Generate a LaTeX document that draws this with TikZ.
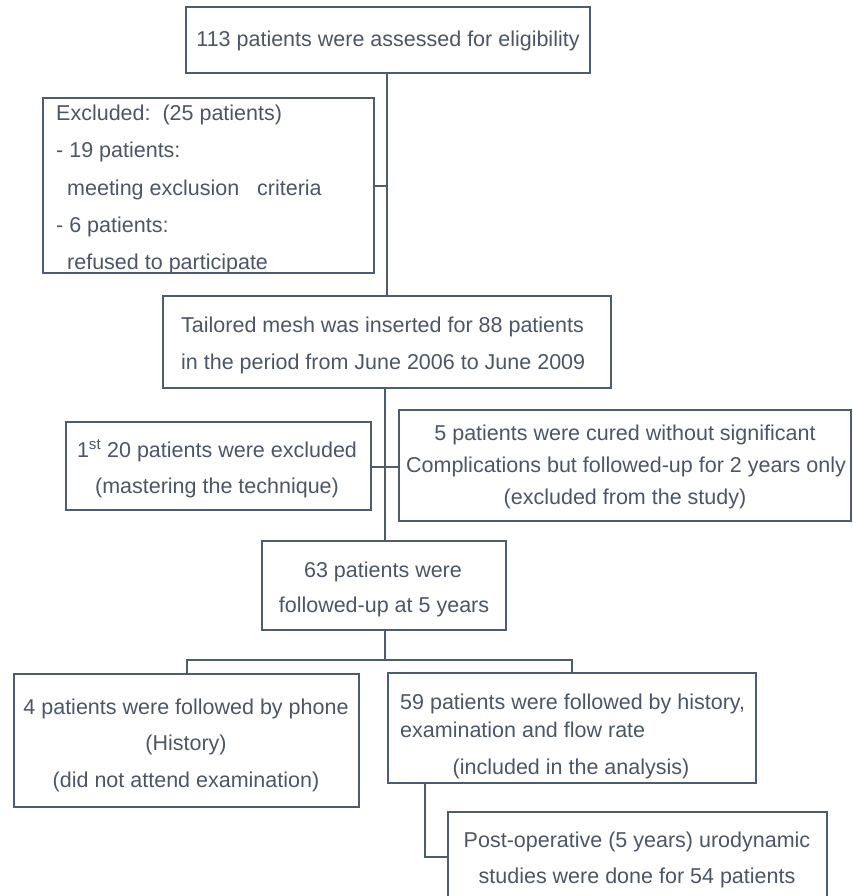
\documentclass[tikz,border=0pt]{standalone}
\usepackage{fontspec}
\setmainfont{Liberation Sans}
\usetikzlibrary{fit}
\definecolor{boxline}{RGB}{78,92,114}
\definecolor{txtcol}{RGB}{76,86,102}
\newcommand\mkbox[5]{\path (#2,#3) coordinate (#1nw) (#4,#5) coordinate (#1se);
  \node[boxstyle, fit=(#1nw)(#1se)] (#1) {};}
\begin{document}
\begin{tikzpicture}[x=1pt,y=-1pt,
  boxstyle/.style={draw=boxline, line width=1.4pt, inner sep=0pt, outer sep=0pt, rectangle},
  txt/.style={text=txtcol, inner sep=0pt, font=\fontsize{21.5}{25}\selectfont},
  conn/.style={draw=boxline, line width=1.4pt}]
\useasboundingbox (0,0) rectangle (853,896);
\clip (0,0) rectangle (853,896);
\fill[white] (0,0) rectangle (853,896);

% boxes
\mkbox{b1}{186}{7}{590}{73}
\mkbox{b2}{43}{98}{374}{273}
\mkbox{b3}{163}{296}{611}{388}
\mkbox{b4}{66}{422}{371}{510}
\mkbox{b5}{399}{410}{851}{521}
\mkbox{b6}{262}{541}{506}{630}
\mkbox{b7}{14}{674}{359}{807}
\mkbox{b8}{388}{673}{756}{783}
\mkbox{b9}{448}{812}{827}{900}

% texts
\node[txt, anchor=base] (t1) at (388,47) {113 patients were assessed for eligibility};

\node[txt, anchor=base west] (t2a) at (56,121) {Excluded:\ \ (25 patients)};
\node[txt, anchor=base west] (t2b) at (56,158) {- 19 patients:};
\node[txt, anchor=base west] (t2c) at (67,195) {meeting exclusion\ \ \ criteria};
\node[txt, anchor=base west] (t2d) at (56,232) {- 6 patients:};
\node[txt, anchor=base west] (t2e) at (67,269) {refused to participate};

\node[txt, anchor=base west] (t3a) at (181,332) {Tailored mesh was inserted for 88 patients};
\node[txt, anchor=base west] (t3b) at (181,369) {in the period from June 2006 to June 2009};

\node[txt, anchor=base] (t4a) at (217,457) {1\textsuperscript{st} 20 patients were excluded};
\node[txt, anchor=base] (t4b) at (217,493) {(mastering the technique)};

\node[txt, anchor=base] (t5a) at (625,440) {5 patients were cured without significant};
\node[txt, anchor=base] (t5b) at (626,472) {Complications but followed-up for 2 years only};
\node[txt, anchor=base] (t5c) at (625,504) {(excluded from the study)};

\node[txt, anchor=base] (t6a) at (383,577) {63 patients were};
\node[txt, anchor=base] (t6b) at (384,612) {followed-up at 5 years};

\node[txt, anchor=base] (t7a) at (186,714) {4 patients were followed by phone};
\node[txt, anchor=base] (t7b) at (186,750) {(History)};
\node[txt, anchor=base] (t7c) at (186,787) {(did not attend examination)};

\node[txt, anchor=base west] (t8a) at (400,709) {59 patients were followed by history,};
\node[txt, anchor=base west] (t8b) at (400,737) {examination and flow rate};
\node[txt, anchor=base] (t8c) at (571,774) {(included in the analysis)};

\node[txt, anchor=base] (t9a) at (637,847) {Post-operative (5 years) urodynamic};
\node[txt, anchor=base] (t9b) at (637,883) {studies were done for 54 patients};

% connectors
\coordinate (j1) at (387,186);
\coordinate (j2) at (385,467);
\coordinate (j3) at (385,660);
\coordinate (j4) at (425,857);
\coordinate (k1) at (187,674);
\coordinate (k2) at (572,673);
\draw[conn] (j1 |- b1.south) -- (j1 |- b3.north);
\draw[conn] (b2.east |- j1) -- (j1);
\draw[conn] (j2 |- b3.south) -- (j2 |- b6.north);
\draw[conn] (b4.east |- j2) -- (b5.west |- j2);
\draw[conn] (j3 |- b6.south) -- (j3);
\draw[conn] (k1 |- b7.north) -- (k1 |- j3) -- (k2 |- j3) -- (k2 |- b8.north);
\draw[conn] (j4 |- b8.south) -- (j4) -- (b9.west |- j4);
\end{tikzpicture}
\end{document}
